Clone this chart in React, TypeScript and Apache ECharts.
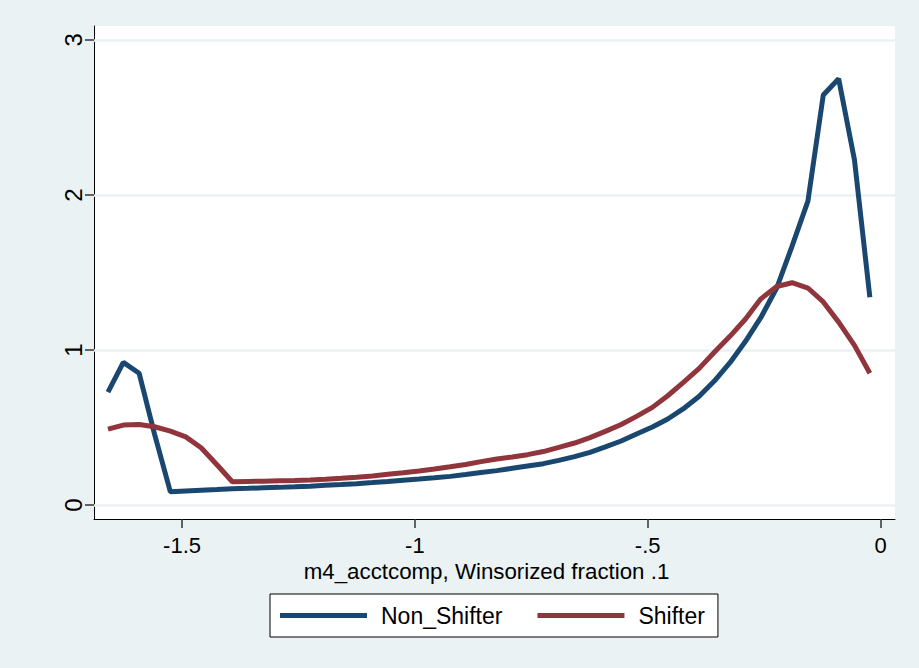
import React, { useEffect, useRef } from "react";
import * as echarts from "echarts";

// Evaluation grid of the kernel density (x values)
const xValues = [
  -1.659, -1.626, -1.592, -1.559, -1.525, -1.492, -1.459, -1.425, -1.392, -1.358,
  -1.325, -1.292, -1.258, -1.225, -1.192, -1.158, -1.125, -1.091, -1.058, -1.025,
  -0.991, -0.958, -0.924, -0.891, -0.858, -0.824, -0.791, -0.758, -0.724, -0.691,
  -0.657, -0.624, -0.591, -0.557, -0.524, -0.49, -0.457, -0.424, -0.39, -0.357,
  -0.323, -0.29, -0.257, -0.223, -0.19, -0.156, -0.123, -0.09, -0.056, -0.023,
];

const nonShifter = [
  0.729, 0.92, 0.85, 0.458, 0.085, 0.09, 0.095, 0.1, 0.105, 0.108,
  0.111, 0.114, 0.118, 0.122, 0.127, 0.132, 0.138, 0.145, 0.152, 0.16,
  0.168, 0.176, 0.185, 0.197, 0.21, 0.222, 0.237, 0.252, 0.267, 0.288,
  0.312, 0.34, 0.375, 0.413, 0.458, 0.503, 0.555, 0.62, 0.7, 0.8,
  0.92, 1.056, 1.21, 1.4, 1.67, 1.96, 2.645, 2.75, 2.226, 1.34,
];

const shifter = [
  0.49, 0.516, 0.52, 0.505, 0.477, 0.44, 0.37, 0.26, 0.15, 0.152,
  0.154, 0.156, 0.158, 0.162, 0.167, 0.173, 0.18, 0.188, 0.198, 0.208,
  0.22, 0.233, 0.247, 0.262, 0.28, 0.297, 0.31, 0.325, 0.345, 0.372,
  0.4, 0.435, 0.475, 0.52, 0.572, 0.63, 0.705, 0.79, 0.88, 0.985,
  1.09, 1.2, 1.33, 1.41, 1.434, 1.4, 1.31, 1.18, 1.03, 0.85,
];

const xTicks = [-1.5, -1, -0.5, 0];
const yTicks = [0, 1, 2, 3];
const seriesNames = ["Non_Shifter", "Shifter"];
const xTitle = "m4_acctcomp, Winsorized fraction .1";

const FONT = "'Liberation Sans', Arial, Helvetica, sans-serif";

export default function App() {
  const ref = useRef<HTMLDivElement>(null);

  useEffect(() => {
    if (!ref.current) return;
    const chart = echarts.init(ref.current, undefined, { renderer: "svg" });
    const fmt = (v: number) => {
      const s = String(Math.round(v * 100) / 100);
      return s.replace(/^(-?)0\./, "$1.");
    };
    chart.setOption({
      animation: false,
      backgroundColor: "#EAF2F3",
      textStyle: { fontFamily: FONT },
      grid: {
        left: 94,
        top: 26,
        right: 24,
        bottom: 149,
        show: true,
        backgroundColor: "#ffffff",
        borderWidth: 0,
        containLabel: false,
      },
      legend: {
        data: seriesNames.map((n) => ({ name: n, icon: "rect" })),
        left: 270,
        top: 594,
        orient: "horizontal",
        backgroundColor: "#ffffff",
        borderColor: "#000000",
        borderWidth: 1,
        padding: [10, 13, 10, 10],
        itemWidth: 87,
        itemHeight: 5,
        itemGap: 35,
        textStyle: {
          fontFamily: FONT,
          fontSize: 23,
          color: "#000000",
          padding: [0, 0, 0, 9],
        },
      },
      xAxis: {
        type: "value",
        min: -1.689,
        max: 0.031,
        name: xTitle,
        nameLocation: "middle",
        nameGap: 41,
        nameTextStyle: {
          fontFamily: FONT,
          fontSize: 22.3,
          color: "#000000",
          padding: [0, 16, 0, 0],
        },
        axisLine: { show: true, onZero: false, lineStyle: { color: "#000000", width: 1 } },
        axisTick: {
          show: true,
          length: 9,
          customValues: xTicks,
          lineStyle: { color: "#333333", width: 1.5 },
        },
        axisLabel: {
          customValues: xTicks,
          formatter: fmt,
          fontFamily: FONT,
          fontSize: 22,
          color: "#000000",
          margin: 15,
        },
        splitLine: { show: false },
      },
      yAxis: {
        type: "value",
        min: -0.09,
        max: 3.09,
        axisLine: { show: true, onZero: false, lineStyle: { color: "#000000", width: 1 } },
        axisTick: {
          show: true,
          length: 9,
          customValues: yTicks,
          lineStyle: { color: "#333333", width: 1.5 },
        },
        axisLabel: {
          customValues: yTicks,
          formatter: fmt,
          rotate: 90,
          fontFamily: FONT,
          fontSize: 24,
          color: "#000000",
          margin: 9,
        },
        splitLine: { show: false },
      },
      series: [
        {
          name: seriesNames[0],
          type: "line",
          data: xValues.map((x, i) => [x, nonShifter[i]]),
          symbol: "none",
          lineStyle: { color: "#1A476F", width: 5 },
          itemStyle: { color: "#1A476F" },
          markLine: {
            silent: true,
            symbol: "none",
            label: { show: false },
            lineStyle: { color: "#EAF2F3", width: 2.5, type: "solid" },
            data: yTicks.map((v) => ({ yAxis: v })),
            z: 1,
          },
          z: 3,
        },
        {
          name: seriesNames[1],
          type: "line",
          data: xValues.map((x, i) => [x, shifter[i]]),
          symbol: "none",
          lineStyle: { color: "#90353B", width: 5 },
          itemStyle: { color: "#90353B" },
          z: 4,
        },
      ],
    });
    return () => chart.dispose();
  }, []);

  return (
    <div
      ref={ref}
      style={{ position: "fixed", left: 0, top: 0, width: 919, height: 668 }}
    />
  );
}
